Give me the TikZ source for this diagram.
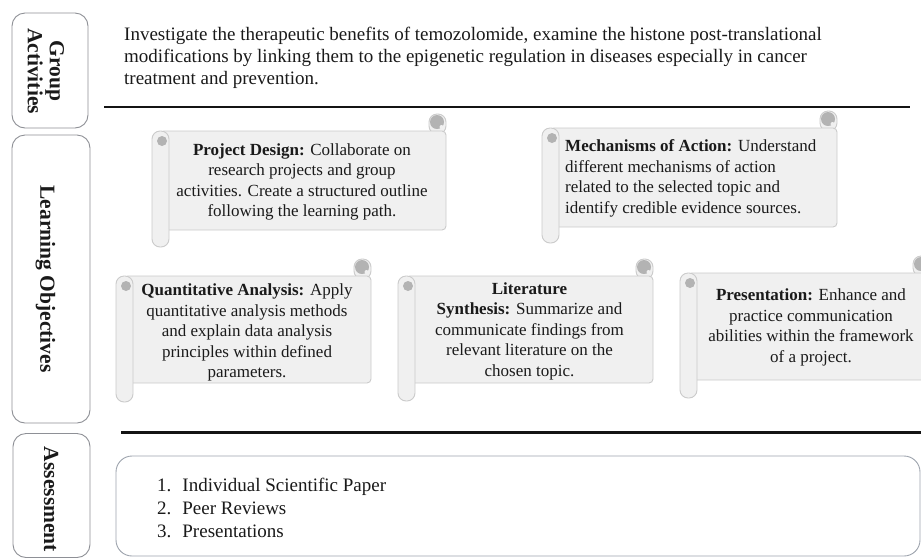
\documentclass[tikz,border=0pt]{standalone}
\usepackage{fontspec}
\setmainfont{Liberation Serif}
\definecolor{txt}{HTML}{1A1A1A}
\definecolor{boxgray}{HTML}{8E9096}
\definecolor{scrollfill}{HTML}{F0F0F0}
\definecolor{scrolledge}{HTML}{CBCBCB}
\definecolor{curlgray}{HTML}{B3B3B3}
\definecolor{asmtedge}{HTML}{9EA4AE}
% #1 left, #2 body top, #3 body right, #4 body bottom, #5 roll bottom
\newcommand\scrollshape[5]{%
  \draw[scrollline, rounded corners=8pt] (#3-17,#2+3) rectangle (#3,#2-17);
  \draw[scrollline, rounded corners=4pt] (#1+8,#2) rectangle (#3,#4);
  \draw[scrollline, rounded corners=8pt] (#1,#2) rectangle (#1+17,#5);
  \fill[curlgray] (#1+10,#2+10) circle (5);
  \fill[curlgray] (#3-9,#2-9) circle (7);
  \fill[scrollfill] (#3-4.5,#2-4) circle (2);
}
\begin{document}
\begin{tikzpicture}[x=1pt,y=-1pt,
  sidebox/.style={draw=boxgray, line width=0.9pt, rounded corners=13pt, inner sep=0},
  sidelabel/.style={font=\fontsize{21.5}{22}\selectfont\bfseries, rotate=-90, align=center, text=txt, inner sep=0},
  scrolltext/.style={font=\fontsize{17}{20.5}\selectfont, align=center, text=txt, inner sep=0},
  scrollline/.style={draw=scrolledge, fill=scrollfill, line width=0.9pt},
  sepline/.style={line width=2.8pt, draw=black!92}]
\useasboundingbox (0,0) rectangle (921,558);
\clip (0,0) rectangle (921,558);
\fill[white] (0,0) rectangle (921,558);

% side boxes
\node[sidebox, minimum width=76pt, minimum height=115pt] (gabox) at (50,70.5) {};
\node[sidebox, minimum width=78pt, minimum height=288pt] (lobox) at (51,279) {};
\node[sidebox, minimum width=77pt, minimum height=124pt] (asbox) at (51.5,495.5) {};
\node[sidelabel] (galabel) at (46,71) {Group\\Activities};
\node[sidelabel] (lolabel) at (45.5,279) {Learning Objectives};
\node[sidelabel] (aslabel) at (51,499.5) {Assessment};

% group activities text
\node[anchor=north west, inner sep=0, align=left, text=txt,
      font=\fontsize{19}{22}\selectfont] (gatext) at (124,27)
  {Investigate the therapeutic benefits of temozolomide, examine the histone post-translational\\
   modifications by linking them to the epigenetic regulation in diseases especially in cancer\\
   treatment and prevention.};

% separators
\coordinate (s1a) at (104,107); \coordinate (s1b) at (910,107);
\draw[sepline] (s1a) -- (s1b);
\coordinate (s2a) at (121,432.5); \coordinate (s2b) at (921,432.5);
\draw[sepline] (s2a) -- (s2b);

% scrolls
\scrollshape{152}{131}{446}{230}{247}
\scrollshape{542}{128}{837}{227}{243}
\scrollshape{116}{276}{371}{383}{402}
\scrollshape{398}{276}{653}{383}{401}
\scrollshape{680}{273}{930}{380}{398}

\node[scrolltext] (pd) at (302,182)
  {\textbf{Project Design:} Collaborate on\\research projects and group\\activities. Create a structured outline\\following the learning path.};
\node[scrolltext, align=left, anchor=west] (ma) at (565,178.5)
  {\textbf{Mechanisms of Action:} Understand\\different mechanisms of action\\related to the selected topic and\\identify credible evidence sources.};
\node[scrolltext] (qa) at (247,332.5)
  {\textbf{Quantitative Analysis:} Apply\\quantitative analysis methods\\and explain data analysis\\principles within defined\\parameters.};
\node[scrolltext] (ls) at (529.5,331)
  {\textbf{Literature}\\\textbf{Synthesis:} Summarize and\\communicate findings from\\relevant literature on the\\chosen topic.};
\node[scrolltext] (pr) at (811,327.5)
  {\textbf{Presentation:} Enhance and\\practice communication\\abilities within the framework\\of a project.};

% assessment
\node[draw=asmtedge, line width=0.9pt, rounded corners=16pt, minimum width=804pt, minimum height=100pt, inner sep=0] (asmt) at (518,506) {};
\node[anchor=north west, inner sep=0, text=txt, font=\fontsize{19}{23}\selectfont] (alist) at (157,475)
  {\begin{tabular}{@{}l@{\hspace{11pt}}l@{}}1.&Individual Scientific Paper\\2.&Peer Reviews\\3.&Presentations\end{tabular}};
\end{tikzpicture}
\end{document}
